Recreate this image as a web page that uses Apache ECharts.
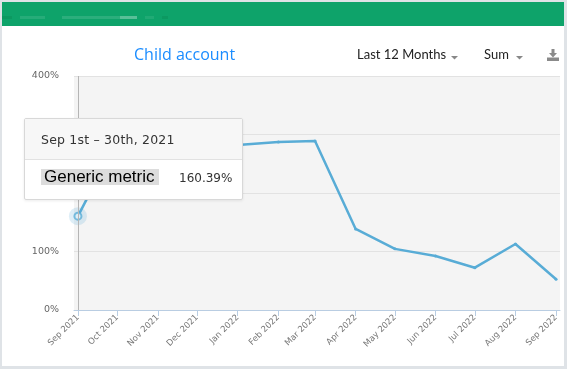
<!DOCTYPE html>
<html><head><meta charset="utf-8">
<script src="https://cdn.jsdelivr.net/npm/echarts@6/dist/echarts.min.js"></script>
<style>html,body{margin:0;padding:0;background:#dfe3e7;}#c{width:567px;height:369px;}</style>
</head><body><div id="c"></div>
<script>
var months = ['2021-09','2021-10','2021-11','2021-12','2022-01','2022-02','2022-03','2022-04','2022-05','2022-06','2022-07','2022-08','2022-09'];
var monthLabels = ['Sep 2021','Oct 2021','Nov 2021','Dec 2021','Jan 2022','Feb 2022','Mar 2022','Apr 2022','May 2022','Jun 2022','Jul 2022','Aug 2022','Sep 2022'];
var metricValues = [1.6039, 2.90, 2.80, 2.77, 2.82, 2.87, 2.89, 1.385, 1.045, 0.923, 0.723, 1.128, 0.525];
var yTicks = [0, 1, 2, 3, 4];
var seriesName = 'Generic metric';
var tipHeader = 'Sep 1st \u2013 30th, 2021';

function ts(m){ var p=m.split('-'); return Date.UTC(+p[0], +p[1]-1, 1); }
var times = months.map(ts);
var DAY = 86400000;
var lineData = times.map(function(t,i){ return [t, metricValues[i]]; });
var labelMap = {}; times.forEach(function(t,i){ labelMap[t]=monthLabels[i]; });

var chart = echarts.init(document.getElementById('c'), null, {renderer:'canvas'});
var lineColor = '#58acd6';
chart.setOption({
  animation:false,
  backgroundColor:'transparent',
  graphic:[
    {type:'rect', shape:{x:2,y:2,width:562,height:24}, style:{fill:'#0ea36a'}, z:-10, silent:true},
    {type:'rect', shape:{x:2,y:26,width:562,height:340}, style:{fill:'#ffffff'}, z:-10, silent:true},
    {type:'rect', shape:{x:20,y:16,width:25,height:3}, style:{fill:'rgba(255,255,255,0.10)'}, silent:true},
    {type:'rect', shape:{x:62,y:16,width:75,height:3}, style:{fill:'rgba(255,255,255,0.12)'}, silent:true},
    {type:'rect', shape:{x:120,y:16,width:17,height:3}, style:{fill:'rgba(255,255,255,0.22)'}, silent:true},
    {type:'rect', shape:{x:145,y:16,width:9,height:3}, style:{fill:'rgba(255,255,255,0.08)'}, silent:true},
    {type:'rect', shape:{x:2,y:16,width:10,height:3}, style:{fill:'rgba(0,80,30,0.12)'}, silent:true},
    {type:'rect', shape:{x:162,y:16,width:6,height:3}, style:{fill:'rgba(0,80,30,0.12)'}, silent:true},
    {type:'text', left:134, top:47, style:{text:'Child account', fill:'#1a8cff', font:'16px "Open Sans", sans-serif'}},
    {type:'text', left:357, top:48, style:{text:'Last 12 Months', fill:'#222', font:'13px Lato, "Open Sans", sans-serif'}},
    {type:'polygon', shape:{points:[[451,56],[458,56],[454.5,59.5]]}, style:{fill:'#888'}},
    {type:'text', left:484, top:48, style:{text:'Sum', fill:'#222', font:'13px Lato, "Open Sans", sans-serif'}},
    {type:'polygon', shape:{points:[[516,56],[523,56],[519.5,59.5]]}, style:{fill:'#888'}},
    {type:'polygon', shape:{points:[[551.5,49],[554.5,49],[554.5,53],[557,53],[553,57.5],[549,53],[551.5,53]]}, style:{fill:'#8a8a8a'}},
    {type:'rect', shape:{x:547,y:57.5,width:12,height:3.5}, style:{fill:'#8a8a8a'}}
  ],
  grid:{left:74, right:7, top:76, bottom:59, show:true, backgroundColor:'#f4f4f4', borderWidth:0},
  tooltip:{
    trigger:'axis', alwaysShowContent:true, triggerOn:'none',
    position:[24,118],
    padding:0, borderColor:'#d8d8d8', borderWidth:1, borderRadius:2, backgroundColor:'#fff',
    extraCssText:'box-shadow:0 1px 3px rgba(0,0,0,0.08);width:217px;height:80px;overflow:hidden;',
    axisPointer:{type:'line', lineStyle:{color:'#b5b5b5', width:1, type:'solid'}, label:{show:false}},
    formatter:function(params){
      var p = params[0];
      var v = (p.value[1]*100).toFixed(2)+'%';
      return '<div style="background:#f7f7f7;height:40px;border-bottom:1px solid #e2e2e2;font:12.5px \'DejaVu Sans\',sans-serif;line-height:41px;color:#333;letter-spacing:0.2px;padding-left:16px;">'+tipHeader+'</div>'+
        '<div style="height:39px;position:relative;">'+
        '<span style="position:absolute;left:16px;top:9px;background:#dcdcdc;font:17px \'Liberation Sans\',Arial,sans-serif;line-height:16px;color:#000;padding:0 4px 0 3px;">'+seriesName+'</span>'+
        '<span style="position:absolute;left:154px;top:10px;font:12px \'DejaVu Sans\',sans-serif;line-height:16px;color:#333;">'+v+'</span></div>';
    }
  },
  xAxis:{
    type:'value',
    min: times[0]-3*DAY, max: times[times.length-1]+3*DAY,
    axisLine:{show:true, lineStyle:{color:'#b9cde2', width:1}},
    axisTick:{show:true, length:6, lineStyle:{color:'#b9cde2'}, customValues: times},
    axisLabel:{customValues: times, rotate:45, fontSize:8.5, color:'#777', margin:6, fontFamily:'"DejaVu Sans", sans-serif',
      formatter:function(v){ return labelMap[v] || ''; }},
    splitLine:{show:false}
  },
  yAxis:{
    type:'value', min:0, max:4, interval:1,
    axisLine:{show:false}, axisTick:{show:false},
    axisLabel:{color:'#666', fontSize:9.5, margin:15, fontFamily:'"DejaVu Sans", sans-serif',
      formatter:function(v){ return Math.round(v*100)+'%'; }},
    splitLine:{lineStyle:{color:'#e2e2e2', width:1}}
  },
  series:[
    {type:'line', name:seriesName, data:lineData, symbol:'circle', symbolSize:3, showSymbol:true,
     itemStyle:{color:lineColor}, lineStyle:{color:lineColor, width:2.5}, emphasis:{disabled:true}, z:3},
    {type:'scatter', data:[lineData[0]], symbolSize:18, itemStyle:{color:'rgba(88,172,214,0.25)'}, silent:true, z:4, tooltip:{show:false}},
    {type:'scatter', data:[lineData[0]], symbolSize:7, itemStyle:{color:'#fff', borderColor:lineColor, borderWidth:2}, silent:true, z:5, tooltip:{show:false}}
  ]
});
chart.dispatchAction({type:'showTip', seriesIndex:0, dataIndex:0});
</script></body></html>
